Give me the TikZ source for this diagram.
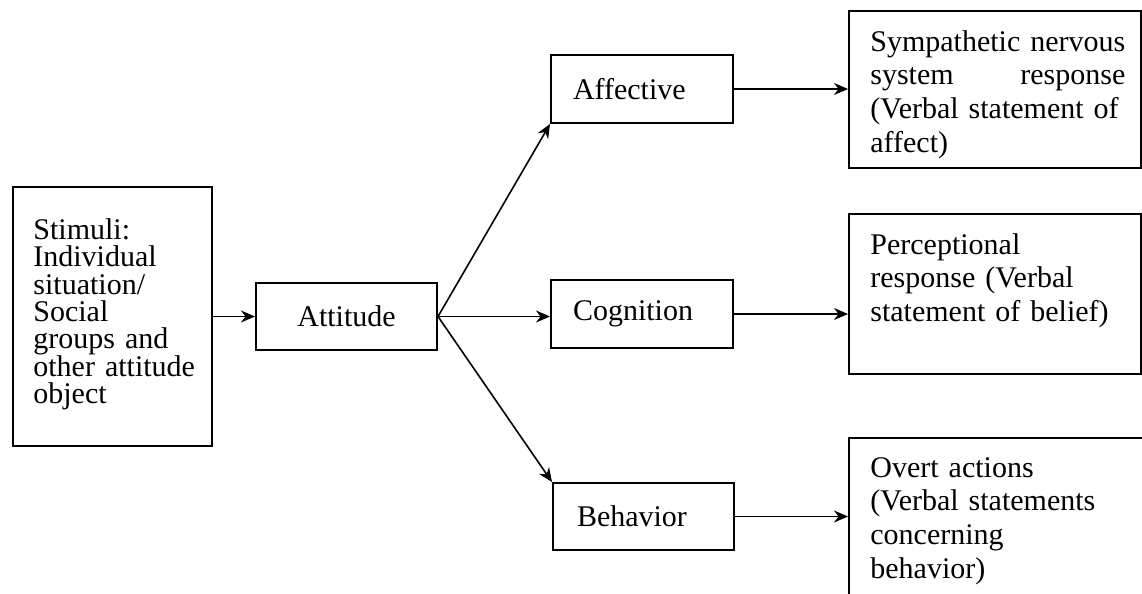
\documentclass[tikz,border=0pt]{standalone}
\usepackage{fontspec}
\setmainfont{Liberation Serif}
\usetikzlibrary{arrows.meta}

\tikzset{
  box/.style={draw, line width=1pt, anchor=north west, inner sep=0pt},
  midbox/.style={box, text width=69pt, inner xsep=11pt, minimum height=34pt,
    align=left, font=\fontsize{15}{17}\selectfont},
  txt/.style={anchor=north west, inner sep=0pt, text width=127.5pt, align=left,
    font=\fontsize{15}{16.8}\selectfont},
  link/.style={-{Stealth[length=7pt,width=6pt]}, line width=0.8pt}
}

\begin{document}
\begin{tikzpicture}[x=0.5pt, y=-0.5pt]
  % Fix the page to the size of the picture
  \useasboundingbox (0,0) rectangle (1142,594);

  % Stimuli box on the left
  \node[box, minimum width=99.5pt, minimum height=129.5pt] (stimuli) at (12,186) {};
  \node[txt, text width=87pt, font=\fontsize{15}{13.7}\selectfont] (stimtext) at (33,218)
    {Stimuli:\\Individual\\situation/\\Social\\groups and\\other attitude\\object};

  % Attitude in the middle
  \node[box, minimum width=90.5pt, minimum height=33.5pt,
    font=\fontsize{15}{17}\selectfont] (attitude) at (255,282) {Attitude};

  % The three components
  \node[midbox] (affective) at (550,54) {Affective};
  \node[midbox] (cognition) at (550,279) {Cognition};
  \node[midbox, inner xsep=12pt, text width=66.5pt, minimum height=33.5pt] (behavior) at (552,482) {Behavior};

  % Response boxes on the right
  \node[box, minimum width=146pt, minimum height=78.5pt] (affectresp) at (848,10) {};
  \node[box, minimum width=146pt, minimum height=80pt] (beliefresp) at (848,213) {};
  \node[box, minimum width=156pt, minimum height=92pt] (actionresp) at (848,437) {};
  \node[txt] (affecttext) at (870,30)
    {Sympathetic nervous\\system\hfill response\\(Verbal statement of\\affect)};
  \node[txt] (belieftext) at (870,233)
    {Perceptional\\response (Verbal\\statement of belief)};
  \node[txt] (actiontext) at (870,457)
    {Overt actions\\(Verbal statements\\concerning\\behavior)};

  % Arrows
  \draw[link] (stimuli) -- (attitude);
  \draw[link] (attitude.east) -- (affective.south west);
  \draw[link] (attitude.east) -- (cognition.west |- attitude.east);
  \draw[link] (attitude.east) -- (behavior.north west);
  \draw[link] (affective.east) -- (affective.east -| affectresp.west);
  \draw[link] (cognition.east) -- (cognition.east -| beliefresp.west);
  \draw[link] (behavior.east) -- (behavior.east -| actionresp.west);
\end{tikzpicture}
\end{document}
